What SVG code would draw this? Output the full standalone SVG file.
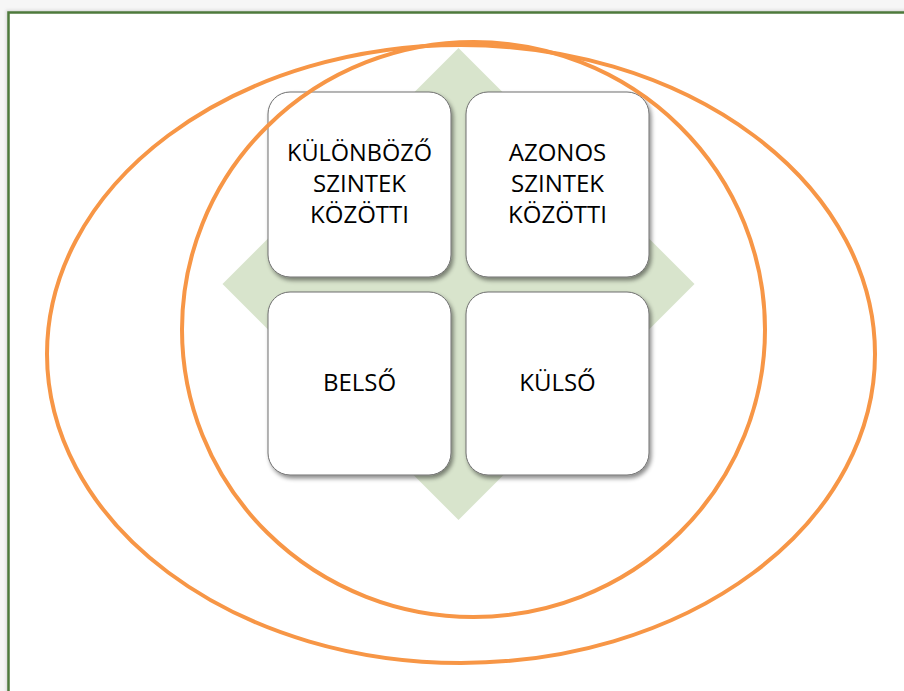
<svg xmlns="http://www.w3.org/2000/svg" width="904" height="691" viewBox="0 0 904 691">
  <defs>
    <filter id="boxShadow" x="-10%" y="-10%" width="125%" height="125%">
      <feDropShadow dx="2" dy="3" stdDeviation="2" flood-color="#000" flood-opacity="0.45"/>
    </filter>
    <filter id="frameShadow" x="-5%" y="-5%" width="110%" height="110%">
      <feGaussianBlur stdDeviation="1.5"/>
    </filter>
  </defs>
  <style>
    .frame { fill: #ffffff; stroke: #4e7a3c; stroke-width: 2.5; }
    .diamond { fill: #d8e4cc; }
    .box { fill: #ffffff; stroke: #6e6e6e; stroke-width: 1; filter: url(#boxShadow); }
    .label { font-family: "Open Sans", "Noto Sans", sans-serif; font-size: 24px; fill: #000000; text-anchor: middle; }
    .ring { fill: none; stroke: #f79646; stroke-width: 4; }
  </style>

  <!-- page background and framed area -->
  <rect x="0" y="0" width="904" height="691" fill="#f6f6f6"/>
  <rect x="6" y="10" width="1000" height="1000" fill="#d9d9d9" filter="url(#frameShadow)"/>
  <rect class="frame" x="8.5" y="12.5" width="1000" height="1000"/>

  <!-- green diamond behind the grid -->
  <polygon class="diamond" points="458.5,48 694.5,284 458.5,520 222.5,284"/>

  <!-- grid of rounded boxes -->
  <g id="node-kulonbozo">
    <rect class="box" x="268" y="92" width="183" height="185" rx="22" ry="22"/>
    <text class="label" x="359.5" y="161" textLength="145" lengthAdjust="spacingAndGlyphs">KÜLÖNBÖZŐ</text>
    <text class="label" x="359.5" y="192">SZINTEK</text>
    <text class="label" x="359.5" y="223">KÖZÖTTI</text>
  </g>
  <g id="node-azonos">
    <rect class="box" x="466" y="92" width="183" height="185" rx="22" ry="22"/>
    <text class="label" x="557.5" y="161">AZONOS</text>
    <text class="label" x="557.5" y="192">SZINTEK</text>
    <text class="label" x="557.5" y="223">KÖZÖTTI</text>
  </g>
  <g id="node-belso">
    <rect class="box" x="268" y="292" width="183" height="183" rx="22" ry="22"/>
    <text class="label" x="359.5" y="391">BELSŐ</text>
  </g>
  <g id="node-kulso">
    <rect class="box" x="466" y="292" width="183" height="183" rx="22" ry="22"/>
    <text class="label" x="557.5" y="391">KÜLSŐ</text>
  </g>

  <!-- orange rings drawn over the grid -->
  <g id="connectors">
    <ellipse class="ring" cx="461" cy="354" rx="414" ry="309"/>
    <ellipse class="ring" cx="473.5" cy="329.5" rx="291.5" ry="287.5"/>
  </g>
</svg>
